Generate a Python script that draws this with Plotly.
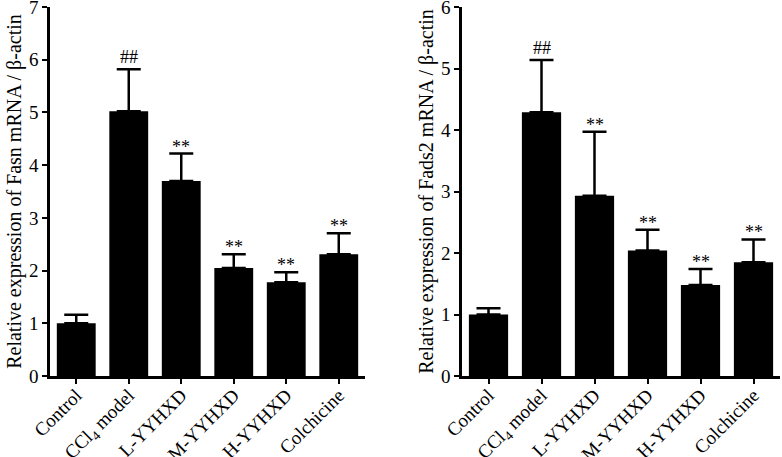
import plotly.graph_objects as go

# Group labels
categories = ["Control", "CCl<sub>4</sub> model", "L-YYHXD", "M-YYHXD", "H-YYHXD", "Colchicine"]

# Fasn mRNA (left panel): mean and mean + SD
fasn_mean = [1.0, 5.02, 3.70, 2.05, 1.78, 2.31]
fasn_top = [1.16, 5.82, 4.22, 2.31, 1.97, 2.71]
fasn_marks = ["", "##", "**", "**", "**", "**"]

# Fads2 mRNA (right panel)
fads2_mean = [1.0, 4.29, 2.93, 2.04, 1.48, 1.85]
fads2_top = [1.10, 5.14, 3.97, 2.38, 1.74, 2.22]
fads2_marks = ["", "##", "**", "**", "**", "**"]

font_family = "Times New Roman, Liberation Serif, Tinos, serif"

fig = go.Figure()

panels = [
    (fasn_mean, fasn_top, fasn_marks, "x", "y"),
    (fads2_mean, fads2_top, fads2_marks, "x2", "y2"),
]
for mean, top, marks, xa, ya in panels:
    fig.add_trace(
        go.Bar(
            x=categories,
            y=mean,
            xaxis=xa,
            yaxis=ya,
            width=0.74,
            marker=dict(color="black", line=dict(width=0)),
            error_y=dict(
                type="data",
                symmetric=False,
                array=[t - m for t, m in zip(top, mean)],
                arrayminus=[0] * len(mean),
                color="black",
                thickness=2.5,
                width=12,
            ),
            showlegend=False,
        )
    )
    for cat, t, mk in zip(categories, top, marks):
        if mk:
            # asterisks sit high in the glyph box, pull them down onto the cap
            fig.add_annotation(
                x=cat,
                y=t,
                xref=xa,
                yref=ya,
                text=mk,
                showarrow=False,
                yanchor="bottom",
                yshift=-5 if mk == "**" else 0,
                font=dict(family=font_family, size=18, color="black"),
            )

axis_common = dict(
    showline=True,
    linewidth=2.5,
    linecolor="black",
    ticks="outside",
    tickwidth=2,
    tickcolor="black",
    showgrid=False,
    zeroline=False,
    automargin=False,
    ticklabeloverflow="allow",
)

xaxis_common = dict(
    range=[-0.5, 5.5],
    tickangle=-45,
    tickfont=dict(size=19),
    ticklen=5,
    ticklabelstandoff=-7,
    **axis_common,
)

fig.update_layout(
    width=782,
    height=457,
    font=dict(family=font_family, size=19, color="black"),
    plot_bgcolor="white",
    paper_bgcolor="white",
    margin=dict(l=0, r=0, t=7, b=81),
    xaxis=dict(domain=[50 / 782, 365 / 782], anchor="y", **xaxis_common),
    yaxis=dict(
        range=[0, 7],
        dtick=1,
        ticklen=5,
        title=dict(text="Relative expression of Fasn mRNA / β-actin", font=dict(size=20), standoff=2),
        anchor="x",
        **axis_common,
    ),
    xaxis2=dict(domain=[462 / 782, 780 / 782], anchor="y2", **xaxis_common),
    yaxis2=dict(
        range=[0, 6],
        dtick=1,
        ticklen=5,
        title=dict(text="Relative expression of Fads2 mRNA / β-actin", font=dict(size=20), standoff=2),
        anchor="x2",
        **axis_common,
    ),
)

# drop the default page margin so the figure sits at the window's top-left corner
fig.write_html(
    "out.html",
    config={"displayModeBar": False},
    post_script="document.body.style.margin='0';",
)
